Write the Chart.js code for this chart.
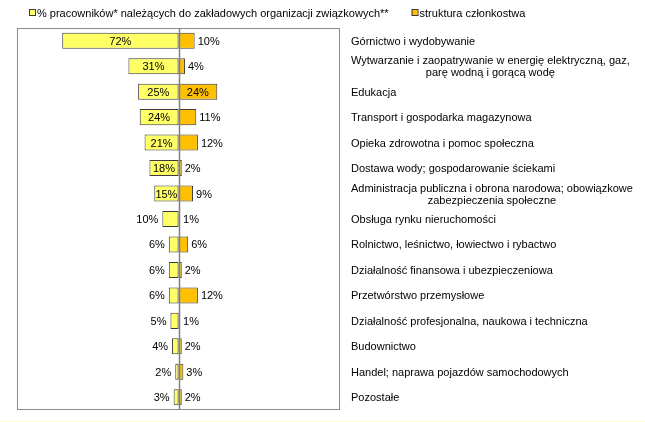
<!DOCTYPE html>
<html lang="pl">
<head>
<meta charset="utf-8">
<title>Związki zawodowe wg sekcji</title>
<script src="https://cdn.jsdelivr.net/npm/chart.js@4.4.1/dist/chart.umd.min.js"></script>
<style>
    html, body { margin: 0; padding: 0; background: #fff; }
    #wrap { width: 645px; height: 421px; border-bottom: 1px solid #ffffc8; }
</style>
</head>
<body>
<div id="wrap"><canvas id="chart"></canvas></div>
<script>
// Chart data
const categories = [
    ['Górnictwo i wydobywanie'],
    ['Wytwarzanie i zaopatrywanie w energię elektryczną, gaz,', 'parę wodną i gorącą wodę'],
    ['Edukacja'],
    ['Transport i gospodarka magazynowa'],
    ['Opieka zdrowotna i pomoc społeczna'],
    ['Dostawa wody; gospodarowanie ściekami'],
    ['Administracja publiczna i obrona narodowa; obowiązkowe', 'zabezpieczenia społeczne'],
    ['Obsługa rynku nieruchomości'],
    ['Rolnictwo, leśnictwo, łowiectwo i rybactwo'],
    ['Działalność finansowa i ubezpieczeniowa'],
    ['Przetwórstwo przemysłowe'],
    ['Działalność profesjonalna, naukowa i techniczna'],
    ['Budownictwo'],
    ['Handel; naprawa pojazdów samochodowych'],
    ['Pozostałe']
];

const seriesNames = [
    '% pracowników* należących do zakładowych organizacji związkowych**',
    'struktura członkostwa'
];

// left side: share of employees in unions
const unionShare = [72, 31, 25, 24, 21, 18, 15, 10, 6, 6, 6, 5, 4, 2, 3];
// right side: membership structure
const memberStructure = [10, 4, 24, 11, 12, 2, 9, 1, 6, 2, 12, 1, 2, 3, 2];

const FONT = '"Liberation Sans", Arial, sans-serif';
const colors = {
    left: '#ffff66',
    right: '#ffc000',
    edge: '#3a3a3a',
    frame: '#8c8c8c',
    axis: '#7f7f7f'
};
const INSIDE_MIN = 15;

// draws frame, zero line, value labels, category labels and legend
const decorPlugin = {
    id: 'decor',
    afterDatasetsDraw(chart) {
        const ctx = chart.ctx;
        const area = chart.chartArea;
        const x = chart.scales.x;
        const y = chart.scales.y;

        ctx.save();

        // frame around plot area
        ctx.strokeStyle = colors.frame;
        ctx.lineWidth = 1;
        ctx.strokeRect(area.left + 0.5, area.top + 0.5, area.right - area.left - 1, area.bottom - area.top - 1);

        // zero line
        const zx = Math.round(x.getPixelForValue(0)) + 0.5;
        ctx.strokeStyle = colors.axis;
        ctx.lineWidth = 1.5;
        ctx.beginPath();
        ctx.moveTo(zx, area.top);
        ctx.lineTo(zx, area.bottom);
        ctx.stroke();

        // value labels
        ctx.fillStyle = '#000';
        ctx.font = '11px ' + FONT;
        ctx.textBaseline = 'middle';
        chart.data.datasets.forEach((ds, di) => {
            const meta = chart.getDatasetMeta(di);
            meta.data.forEach((bar, i) => {
                const v = Math.abs(ds.data[i]);
                const txt = v + '%';
                const left = Math.min(bar.x, bar.base);
                const right = Math.max(bar.x, bar.base);
                if (v >= INSIDE_MIN) {
                    ctx.textAlign = 'center';
                    ctx.fillText(txt, (left + right) / 2, bar.y + 1);
                } else if (di === 0) {
                    ctx.textAlign = 'right';
                    ctx.fillText(txt, left - 4, bar.y + 1);
                } else {
                    ctx.textAlign = 'left';
                    ctx.fillText(txt, right + 3, bar.y + 1);
                }
            });
        });

        // category labels to the right of the plot
        ctx.font = '11px ' + FONT;
        const lx = area.right + 11;
        categories.forEach((lines, i) => {
            const cy = y.getPixelForValue(i);
            ctx.textAlign = 'left';
            if (lines.length === 1) {
                ctx.fillText(lines[0], lx, cy + 1);
            } else {
                // second line is centred under the first one
                const w = ctx.measureText(lines[0]).width;
                ctx.fillText(lines[0], lx, cy - 5);
                ctx.textAlign = 'center';
                ctx.fillText(lines[1], lx + w / 2, cy + 7);
            }
        });

        // legend
        ctx.font = '11px ' + FONT;
        ctx.textAlign = 'left';
        let px = area.left + 12;
        const py = 13;
        chart.data.datasets.forEach((ds) => {
            ctx.fillStyle = ds.backgroundColor;
            ctx.fillRect(px, py - 3, 6, 6);
            ctx.strokeStyle = colors.edge;
            ctx.lineWidth = 1;
            ctx.strokeRect(px + 0.5, py - 3.5, 6, 6);
            ctx.fillStyle = '#000';
            ctx.fillText(ds.label, px + 8, py + 1);
            px += 8 + ctx.measureText(ds.label).width + 23;
        });

        ctx.restore();
    }
};

const ctx = document.getElementById('chart').getContext('2d');
const chart = new Chart(ctx, {
    type: 'bar',
    data: {
        labels: categories.map(c => c.join(' ')),
        datasets: [{
            label: seriesNames[0],
            data: unionShare.map(v => -v),
            backgroundColor: colors.left,
            borderColor: colors.edge,
            borderWidth: 1,
            borderSkipped: false,
            barPercentage: 0.63,
            categoryPercentage: 1
        }, {
            label: seriesNames[1],
            data: memberStructure,
            backgroundColor: colors.right,
            borderColor: colors.edge,
            borderWidth: 1,
            borderSkipped: false,
            barPercentage: 0.63,
            categoryPercentage: 1
        }]
    },
    options: {
        indexAxis: 'y',
        responsive: true,
        maintainAspectRatio: false,
        animation: false,
        layout: {
            padding: { left: 17, top: 28, right: 0, bottom: 11 }
        },
        plugins: {
            legend: { display: false },
            tooltip: { enabled: false },
            title: { display: false }
        },
        scales: {
            x: {
                display: false,
                stacked: true,
                min: -100,
                max: 100
            },
            y: {
                stacked: true,
                position: 'right',
                grid: { display: false },
                border: { display: false },
                ticks: { display: false },
                afterFit(scale) {
                    scale.width = 305;
                }
            }
        }
    },
    plugins: [decorPlugin]
});
</script>
</body>
</html>
